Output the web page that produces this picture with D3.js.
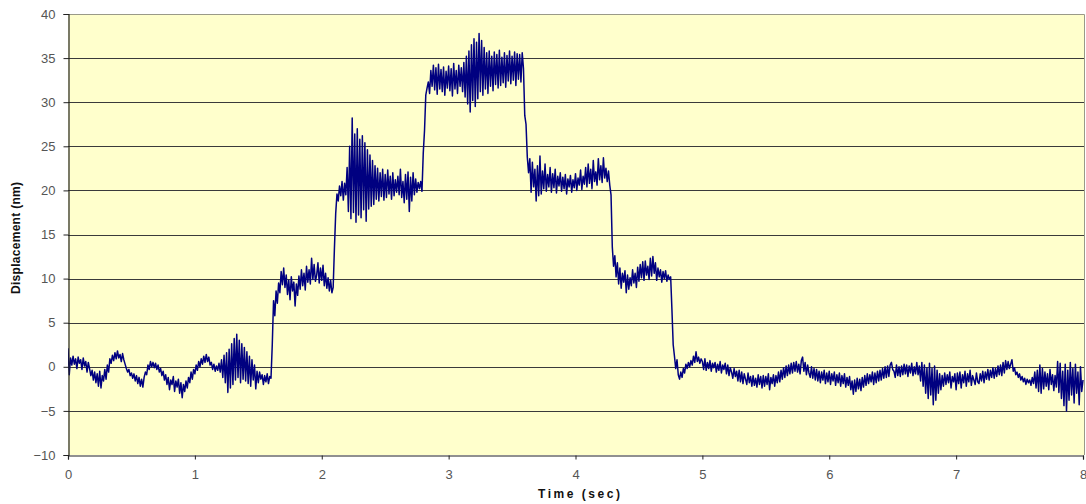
<!DOCTYPE html>
<html>
<head>
<meta charset="utf-8">
<script src="https://cdn.jsdelivr.net/npm/d3@7"></script>
<style>
  body { margin: 0; background: #fff; }
  svg { display: block; font-family: "Liberation Sans", Arial, sans-serif; }
</style>
</head>
<body>
<svg id="chart" width="1086" height="504"></svg>
<script>
// displacement (nm), sampled every 0.01 s, one array per second
var disp0 = [
  2.1, -0.9, 1.0, 0.2, 1.2, 0.3, 0.9, -0.2, 1.1, 0.4,
  0.8, -0.3, 1.0, 0.1, 0.6, -0.6, 0.5, -0.2, -1.0, -0.4,
  -1.5, -0.6, -1.8, -0.8, -2.2, -0.5, -2.4, -1.0, -1.6, -0.3,
  -1.4, 0.2, -0.6, 0.9, 0.4, 1.3, 0.7, 1.6, 0.9, 1.8,
  1.0, 1.4, 0.6, 1.5, 0.8, 0.3, -0.2, -0.6, -0.3, -1.0,
  -0.7, -1.3, -0.8, -1.6, -1.0, -1.9, -1.2, -2.2, -1.4, -2.3,
  -1.2, -0.6, -0.9, 0.2, -0.3, 0.6, 0.0, 0.5, -0.1, 0.4,
  -0.3, 0.2, -0.6, -0.2, -1.0, -0.5, -1.5, -0.9, -2.0, -1.2,
  -2.6, -1.5, -2.0, -1.1, -2.8, -1.6, -2.3, -1.4, -3.0, -1.8,
  -3.5, -2.0, -2.8, -1.6, -2.4, -1.2, -1.8, -0.6, -1.4, -0.3
];
var disp1 = [
  -0.8, 0.2, -0.4, 0.6, 0.0, 0.9, 0.3, 1.2, 0.5, 1.4,
  0.6, 1.1, 0.2, 0.5, -0.3, 0.3, -0.5, 0.1, -0.4, 0.4,
  -0.6, 0.8, -1.2, 1.3, -1.8, 1.6, -2.9, 2.0, -2.4, 2.6,
  -2.0, 3.2, -1.5, 3.7, -1.2, 3.0, -1.8, 2.6, -1.4, 2.2,
  -1.6, 1.7, -1.9, 1.2, -2.2, 0.8, -1.5, 0.2, -2.5, -0.5,
  -1.8, -0.6, -1.4, -0.9, -2.0, -1.0, -1.7, -0.8, -1.9, -1.1,
  -1.3, 2.5, 7.5, 5.8, 8.6, 7.2, 9.5, 8.4, 10.8, 9.3,
  11.2, 9.0, 10.4, 8.2, 9.8, 7.6, 10.2, 8.6, 9.6, 6.9,
  9.4, 8.1, 10.3, 8.8, 11.0, 9.2, 10.6, 8.7, 11.4, 9.6,
  11.0, 9.4, 12.3, 9.9, 11.6, 9.7, 10.4, 11.8, 9.5, 11.2
];
var disp2 = [
  9.8, 11.5, 9.2, 10.6, 8.9, 10.1, 8.6, 9.8, 8.4, 9.0,
  13.5, 17.4, 19.6, 18.8, 20.5, 19.4, 21.0, 18.9, 20.8, 19.5,
  22.6, 17.6, 25.0, 16.8, 28.2, 17.5, 26.4, 16.4, 27.0, 17.2,
  25.8, 16.9, 26.2, 17.8, 25.4, 16.5, 24.6, 17.9, 24.0, 18.2,
  23.4, 18.4, 22.8, 19.0, 22.5, 18.8, 22.0, 19.3, 22.4, 18.9,
  21.8, 19.2, 22.3, 19.6, 21.6, 19.0, 22.0, 19.4, 21.2, 19.8,
  21.6, 19.5, 22.4, 19.2, 21.0, 18.6, 21.8, 19.0, 22.1, 17.6,
  21.5, 18.8, 22.0, 19.5, 21.3, 19.8, 20.9, 20.2, 21.0, 19.9,
  24.2, 26.8, 30.8, 31.6, 32.3, 31.0, 33.6, 31.8, 34.2, 31.4,
  33.9, 30.9, 34.3, 31.5, 33.7, 31.2, 34.0, 30.8, 33.5, 31.6
];
var disp3 = [
  34.1, 31.3, 33.8, 30.7, 34.4, 31.5, 33.6, 31.0, 34.2, 31.8,
  33.9, 31.2, 34.5, 30.6, 35.2, 29.8, 35.8, 28.9, 36.5, 30.2,
  37.2, 29.5, 36.8, 30.4, 37.8, 31.2, 37.0, 30.8, 36.2, 31.5,
  35.6, 31.0, 35.8, 31.8, 35.2, 31.3, 35.7, 32.0, 35.4, 31.6,
  35.9, 31.9, 35.1, 32.2, 35.6, 31.7, 35.3, 32.4, 35.8, 32.1,
  35.2, 32.5, 35.7, 31.9, 35.5, 32.6, 35.4, 32.3, 35.6, 33.8,
  28.5, 27.5, 23.8, 22.0, 23.6, 19.8, 23.2, 20.4, 22.4, 18.8,
  22.8, 19.4, 23.9, 19.6, 22.2, 20.2, 23.0, 19.9, 21.8, 20.4,
  22.6, 19.8, 21.9, 20.3, 22.4, 19.7, 21.6, 20.5, 22.0, 19.9,
  21.5, 20.2, 21.8, 19.6, 21.3, 20.4, 21.7, 19.8, 21.2, 20.3
];
var disp4 = [
  21.9, 20.0, 21.4, 20.6, 22.3, 20.1, 21.6, 20.7, 22.6, 20.4,
  23.0, 20.8, 22.4, 20.2, 23.4, 21.0, 22.1, 20.6, 23.6, 21.2,
  22.8, 20.9, 23.7, 21.4, 22.5, 21.0, 22.2, 20.6, 19.5, 13.6,
  11.4, 12.6, 10.2, 11.8, 9.4, 11.2, 8.9, 10.6, 9.6, 10.9,
  8.4, 10.4, 8.8, 10.1, 9.2, 11.0, 9.5, 10.6, 9.0, 11.3,
  9.7, 11.6, 10.1, 11.9, 9.8, 12.0, 10.4, 11.4, 9.9, 12.3,
  10.3, 12.5, 10.6, 11.8, 9.8, 11.2, 10.2, 11.0, 9.6, 10.8,
  10.0, 10.9, 9.7, 10.4, 9.9, 10.2, 6.5, 2.5, 1.2, -0.2,
  0.8, -0.9, -1.4, -0.6, -1.2, -0.2, -0.7, 0.3, -0.2, 0.5,
  0.0, 0.7, 0.2, 1.2, 0.5, 1.7, 0.6, 1.1, 0.4, 0.9
];
var disp5 = [
  0.6, -0.3, 0.9, -0.4, 0.5, -0.2, 0.7, -0.5, 0.4, -0.1,
  0.5, -0.6, 0.3, -0.4, 0.6, -0.7, 0.2, -0.3, 0.4, -0.8,
  0.2, -1.0, -0.1, -0.6, -1.3, -0.2, -1.1, -0.5, -1.6, -0.4,
  -1.7, -0.6, -1.9, -0.8, -1.4, -2.0, -0.7, -1.8, -1.1, -2.2,
  -1.0, -2.1, -1.3, -2.3, -0.9, -2.0, -1.1, -2.4, -1.0, -2.2,
  -1.1, -2.0, -0.8, -2.6, -1.2, -1.9, -0.9, -2.2, -1.0, -1.8,
  -0.6, -1.7, -0.4, -1.4, -0.1, -1.2, 0.1, -1.0, 0.2, -0.8,
  0.4, -0.7, 0.5, -0.5, 0.6, -0.6, 0.3, -0.8, 0.7, 1.1,
  -0.5, 0.5, -0.9, 0.2, -0.7, -1.2, 0.0, -1.3, -0.2, -1.5,
  -0.3, -1.6, -0.5, -1.8, -0.6, -1.5, -0.4, -1.9, -0.7, -1.7
];
var disp6 = [
  -0.5, -2.0, -0.8, -1.6, -0.6, -2.1, -0.9, -1.8, -0.7, -2.2,
  -1.0, -1.9, -0.8, -2.3, -1.2, -2.1, -1.1, -2.6, -1.6, -3.1,
  -1.5, -2.8, -1.3, -2.5, -1.4, -2.7, -1.2, -2.3, -1.0, -2.1,
  -0.8, -1.9, -0.9, -1.7, -0.6, -2.0, -0.7, -1.8, -0.5, -1.6,
  -0.4, -1.5, -0.2, -1.3, 0.0, -1.2, 0.1, -1.1, 0.2, 0.5,
  -0.3, -0.5, -1.2, 0.2, -1.0, 0.0, -1.1, 0.1, -0.9, 0.3,
  -0.8, 0.2, -1.1, 0.1, -0.7, 0.4, -1.0, 0.0, -0.8, 0.5,
  -0.9, 0.1, -1.6, 0.5, -2.2, 0.2, -3.0, -0.1, -3.6, 0.4,
  -3.2, -0.2, -4.3, 0.1, -3.8, -0.4, -3.0, -0.8, -2.6, -1.0,
  -2.2, -0.7, -2.0, -0.9, -1.8, -0.6, -2.4, -1.1, -1.7, -0.8
];
var disp7 = [
  -2.6, -0.7, -1.9, -0.6, -2.4, -0.9, -1.8, -0.5, -2.2, -0.8,
  -1.7, -0.4, -2.1, -1.0, -1.5, -2.0, -0.7, -1.7, -1.9, -0.8,
  -1.6, -0.5, -1.8, -0.6, -1.4, -0.3, -1.5, -0.4, -1.2, -0.1,
  -1.3, -0.2, -1.1, 0.1, -0.9, 0.2, -1.0, 0.5, -0.7, 0.7,
  -0.3, 0.6, -0.2, 0.3, 0.8, -0.5, -0.1, -0.9, -0.6, -1.2,
  -0.8, -1.5, -1.1, -1.7, -1.3, -2.0, -1.4, -1.8, -1.5, -2.1,
  -1.2, -1.9, -0.6, -2.4, -0.4, -2.8, 0.2, -3.0, -0.2, -2.5,
  -0.6, -2.2, -0.8, -2.6, -0.3, -2.0, -0.9, -2.7, -1.0, -2.3,
  0.6, -2.9, 0.4, -3.6, -0.5, -4.4, 0.3, -5.0, -0.4, -3.8,
  0.5, -3.2, -0.2, -4.1, 0.3, -3.0, -0.6, -4.3, 0.0, -2.8
];
var dispEnd = -1.5;   // value at t = 8 s

var xTicks = [0, 1, 2, 3, 4, 5, 6, 7, 8];
var yTicks = [-10, -5, 0, 5, 10, 15, 20, 25, 30, 35, 40];
var sampleStep = 0.01;

var svg = d3.select("#chart");
var plotLeft = 68, plotRight = 1083, plotTop = 14, plotBottom = 455;

var x = d3.scaleLinear().domain([0, 8]).range([plotLeft, plotRight]);
var y = d3.scaleLinear().domain([-10, 40]).range([plotBottom, plotTop]);

// build points
var data = [];
[disp0, disp1, disp2, disp3, disp4, disp5, disp6, disp7].forEach(function(arr, s) {
    arr.forEach(function(v, i) {
        data.push({t: s + i * sampleStep, v: v});
    });
});
data.push({t: 8, v: dispEnd});

// plot area background
svg.append("rect")
    .attr("x", plotLeft).attr("y", plotTop)
    .attr("width", plotRight - plotLeft + 1).attr("height", plotBottom - plotTop)
    .attr("fill", "#ffffcc");

// gridlines
svg.append("g")
    .selectAll("line")
    .data(yTicks.filter(function(d) { return d > -10 && d < 40; }))
    .join("line")
    .attr("x1", plotLeft).attr("x2", plotRight + 1)
    .attr("y1", function(d) { return Math.round(y(d)) + 0.5; })
    .attr("y2", function(d) { return Math.round(y(d)) + 0.5; })
    .attr("stroke", "#3a3a3a").attr("stroke-width", 1);

// top and right border (grey)
svg.append("path")
    .attr("d", "M" + plotLeft + "," + (plotTop + 0.5) + "H" + (plotRight + 1.5) + "V" + plotBottom)
    .attr("fill", "none").attr("stroke", "#9a9a88").attr("stroke-width", 1);

// trace
svg.append("clipPath").attr("id", "clip")
    .append("rect").attr("x", plotLeft).attr("y", plotTop)
    .attr("width", plotRight - plotLeft + 2).attr("height", plotBottom - plotTop);

var line = d3.line()
    .x(function(d) { return x(d.t); })
    .y(function(d) { return y(d.v); });

svg.append("path")
    .datum(data)
    .attr("clip-path", "url(#clip)")
    .attr("d", line)
    .attr("fill", "none")
    .attr("stroke", "#000080")
    .attr("stroke-width", 1.5)
    .attr("stroke-linejoin", "round");

// axes
var yAxis = d3.axisLeft(y).tickValues(yTicks).tickSize(5).tickPadding(8);
var gy = svg.append("g").attr("transform", "translate(" + (plotLeft + 0.5) + ",0)").call(yAxis);

var xAxis = d3.axisBottom(x).tickValues(xTicks).tickSize(4).tickPadding(10);
var gx = svg.append("g").attr("transform", "translate(0," + (plotBottom + 0.5) + ")").call(xAxis);

[gy, gx].forEach(function(g) {
    g.select(".domain").attr("stroke", "#222").attr("stroke-width", 1.2);
    g.selectAll(".tick line").attr("stroke", "#222");
    g.selectAll(".tick text")
        .attr("fill", "#555")
        .style("font-size", "13px")
        .style("font-family", "'Liberation Sans', Arial, sans-serif");
});

// axis titles
svg.append("text")
    .attr("x", 579).attr("y", 498)
    .attr("text-anchor", "middle")
    .attr("textLength", 82).attr("lengthAdjust", "spacing")
    .style("font-size", "12px").style("font-weight", "bold")
    .attr("fill", "#111")
    .text("Time (sec)");

svg.append("text")
    .attr("transform", "translate(20,238) rotate(-90)")
    .attr("text-anchor", "middle")
    .attr("textLength", 112).attr("lengthAdjust", "spacing")
    .style("font-size", "12px").style("font-weight", "bold")
    .attr("fill", "#111")
    .text("Displacement (nm)");
</script>
</body>
</html>
